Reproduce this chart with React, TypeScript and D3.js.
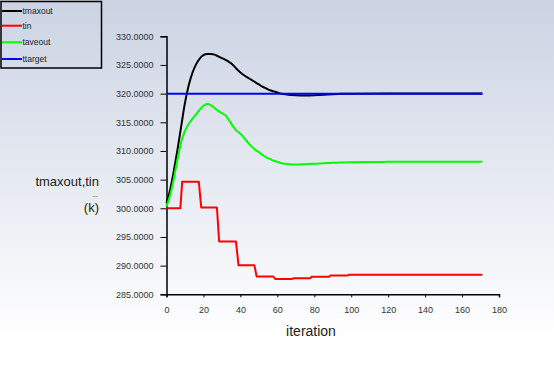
import React, { useEffect, useRef } from 'react';
import * as d3 from 'd3';

// series values as [iteration, value]
const tmaxout: [number, number][] = [
  [0, 300.9], [2, 303.3], [4, 306.6], [6, 310.3], [8, 314.4], [10, 318.4], [12, 321.4],
  [14, 323.6], [16, 325.1], [18, 326.1], [20, 326.7], [22, 326.9], [24, 326.9],
  [26, 326.8], [28, 326.5], [30, 326.2], [32, 325.9], [34, 325.5], [36, 325],
  [38, 324.3], [40, 323.7], [42, 323.2], [44, 322.8], [46, 322.4], [48, 322],
  [50, 321.6], [52, 321.2], [54, 320.9], [56, 320.6], [58, 320.4], [60, 320.2],
  [62, 320.0], [65, 319.85], [70, 319.72], [75, 319.68], [80, 319.72], [85, 319.8],
  [90, 319.9], [95, 319.97], [100, 320.0], [120, 320.02], [171, 320.02],
];

const tin: [number, number][] = [
  [0, 300], [7.5, 300], [8.5, 304.65], [17.5, 304.65], [18.8, 300.15], [27.3, 300.15],
  [28.5, 294.2], [37.6, 294.2], [39, 290.05], [47.6, 290.05], [48.8, 288.1],
  [57.8, 288.1], [59, 287.65], [67.8, 287.65], [68.6, 287.8], [77.8, 287.8],
  [78.6, 288.05], [88, 288.05], [88.8, 288.3], [98, 288.3], [98.8, 288.4], [171, 288.4],
];

const taveout: [number, number][] = [
  [0, 300.3], [2, 302.3], [4, 305.2], [6, 308.6], [8, 311.6], [10, 313.5], [12, 314.7],
  [14, 315.6], [16, 316.4], [18, 317.2], [20, 317.9], [22, 318.2], [24, 318],
  [26, 317.5], [28, 317], [30, 316.6], [32, 316.2],
  [34, 315.3], [36, 314.3], [38, 313.5], [40, 313], [42, 312.3], [44, 311.5],
  [46, 310.8], [48, 310.2], [50, 309.8], [52, 309.3], [54, 308.9], [56, 308.6],
  [58, 308.3], [60, 308.1], [63, 307.8], [66, 307.7], [70, 307.65], [75, 307.7],
  [80, 307.75], [85, 307.85], [90, 307.95], [100, 308.05], [110, 308.08], [120, 308.1],
  [171, 308.1],
];

const ttarget: [number, number][] = [[0, 320], [171, 320]];

const seriesNames = ['tmaxout', 'tin', 'taveout', 'ttarget'];
const seriesColors = ['#000000', '#ff0000', '#00ff00', '#0000ff'];
const seriesData = [tmaxout, tin, taveout, ttarget];

const xTicks = [0, 20, 40, 60, 80, 100, 120, 140, 160, 180];
const yTicks = [285, 290, 295, 300, 305, 310, 315, 320, 325, 330];

const W = 554;
const H = 370;
const FONT = '"Liberation Sans", Arial, sans-serif';

const App = () => {
  const svgRef = useRef<SVGSVGElement>(null);

  useEffect(() => {
    const svg = d3.select(svgRef.current);
    svg.selectAll('*').remove();

    // background gradient
    const grad = svg.append('defs').append('linearGradient')
      .attr('id', 'bg').attr('x1', 0).attr('y1', 0).attr('x2', 0).attr('y2', 1);
    grad.append('stop').attr('offset', '0%').attr('stop-color', '#cbd3e3');
    grad.append('stop').attr('offset', '92%').attr('stop-color', '#ffffff');
    svg.append('rect').attr('width', W).attr('height', H).attr('fill', 'url(#bg)');

    const xScale = d3.scaleLinear().domain([0, 180]).range([166.5, 499]);
    const yScale = d3.scaleLinear().domain([285, 330]).range([294.3, 36.3]);

    // y axis
    const yAxis = d3.axisLeft(yScale).tickValues(yTicks).tickSize(6).tickPadding(7)
      .tickFormat((d) => (d as number).toFixed(4));
    const yMinor = d3.axisLeft(yScale).tickValues(d3.range(287.5, 330, 5)).tickSize(4).tickFormat(() => '');
    const gy = svg.append('g').attr('transform', `translate(${xScale(0)},0)`);
    gy.call(yMinor);
    gy.call(yAxis);

    // x axis
    const xAxis = d3.axisBottom(xScale).tickValues(xTicks).tickSize(3).tickPadding(9);
    const xMinor = d3.axisBottom(xScale).tickValues(d3.range(10, 180, 20)).tickSize(2).tickFormat(() => '');
    const gx = svg.append('g').attr('transform', `translate(0,${yScale(285)})`);
    gx.call(xMinor);
    gx.call(xAxis);

    svg.selectAll('.domain').attr('stroke', '#000').attr('stroke-width', 1.5);
    svg.selectAll('.tick line').attr('stroke', '#000').attr('stroke-width', 1);
    svg.selectAll('.tick text').attr('fill', '#333').style('font-family', FONT).style('font-size', '9px');

    // lines
    const line = d3.line<[number, number]>()
      .x((d) => xScale(d[0]))
      .y((d) => yScale(d[1]))
      .curve(d3.curveMonotoneX);
    const stepLine = d3.line<[number, number]>()
      .x((d) => xScale(d[0]))
      .y((d) => yScale(d[1]));

    seriesData.forEach((data, i) => {
      svg.append('path')
        .datum(data)
        .attr('d', i === 1 ? stepLine : line)
        .attr('fill', 'none')
        .attr('stroke', seriesColors[i])
        .attr('stroke-width', 2)
        .attr('stroke-linejoin', 'round');
    });

    // axis titles
    svg.append('text')
      .attr('x', 311).attr('y', 336)
      .attr('text-anchor', 'middle')
      .style('font-family', FONT).style('font-size', '14px').attr('fill', '#222')
      .text('iteration');

    const yTitle = svg.append('g').attr('text-anchor', 'end')
      .style('font-family', FONT).attr('fill', '#222');
    yTitle.append('text').attr('x', 99).attr('y', 186).style('font-size', '13px').text('tmaxout,tin');
    yTitle.append('text').attr('x', 98).attr('y', 197).style('font-size', '7px').text('...');
    yTitle.append('text').attr('x', 99).attr('y', 212).style('font-size', '13px').text('(k)');

    // legend
    const legend = svg.append('g');
    legend.append('rect')
      .attr('x', 1).attr('y', 1.5).attr('width', 100.5).attr('height', 66.5)
      .attr('fill', 'none').attr('stroke', '#000').attr('stroke-width', 1.5);
    const rowY = [11, 25.7, 42.3, 59];
    seriesNames.forEach((name, i) => {
      legend.append('line')
        .attr('x1', 2).attr('x2', 22).attr('y1', rowY[i]).attr('y2', rowY[i])
        .attr('stroke', seriesColors[i]).attr('stroke-width', 2);
      legend.append('text')
        .attr('x', 22.5).attr('y', rowY[i] + 3)
        .style('font-family', FONT).style('font-size', '8.5px').attr('fill', '#222')
        .text(name);
    });
  }, []);

  return (
    <svg
      ref={svgRef}
      width={W}
      height={H}
      style={{ position: 'fixed', left: 0, top: 0, display: 'block' }}
    />
  );
};

export default App;
